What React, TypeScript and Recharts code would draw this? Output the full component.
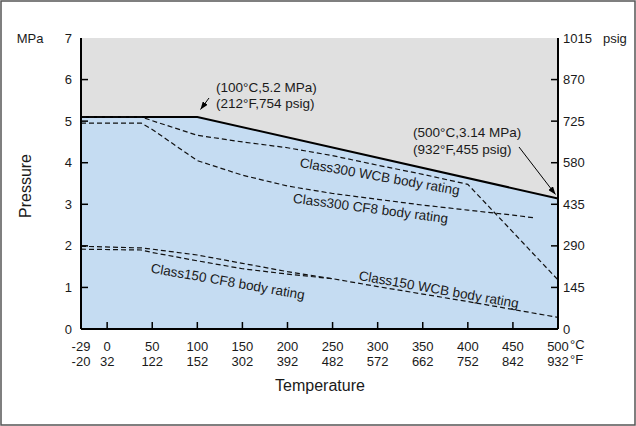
import React from "react";
import { ComposedChart, Area, Line, XAxis, YAxis, CartesianGrid } from "recharts";

// ---- data ----
const tempC = [-29, 0, 50, 100, 150, 200, 250, 300, 350, 400, 450, 500];
const tempF = ["-20", "32", "122", "152", "302", "392", "482", "572", "662", "752", "842", "932"];
const mpaTicks = [0, 1, 2, 3, 4, 5, 6, 7];
const psigTicks = [0, 145, 290, 435, 580, 725, 870, 1015];

const limitT = [-29, 100, 500];
const limitP = [5.1, 5.1, 3.14];
const limitPsig = [740, 740, 455];

const c300WcbT = [-29, 38, 50, 100, 150, 200, 250, 300, 350, 400, 450, 500];
const c300WcbP = [5.1, 5.1, 5.01, 4.66, 4.5, 4.36, 4.17, 3.94, 3.72, 3.48, 2.33, 1.18];

const c300Cf8T = [-29, 38, 50, 100, 150, 200, 250, 300, 350, 400, 450, 475];
const c300Cf8P = [4.95, 4.95, 4.8, 4.05, 3.7, 3.44, 3.26, 3.12, 2.98, 2.86, 2.74, 2.67];

const c150WcbT = [-29, 38, 50, 100, 150, 200, 250, 300, 350, 400, 450, 500];
const c150WcbP = [1.99, 1.95, 1.92, 1.78, 1.58, 1.38, 1.21, 1.02, 0.84, 0.66, 0.47, 0.28];

const c150Cf8T = [-29, 38, 50, 100, 150, 200, 250];
const c150Cf8P = [1.92, 1.9, 1.84, 1.64, 1.45, 1.32, 1.21];

const zip = (t: number[], p: number[]) => t.map((v, i) => ({ t: v, p: p[i] }));

const limitData = zip(limitT, limitP);
const limitPsigData = zip(limitT, limitPsig);
const c300Wcb = zip(c300WcbT, c300WcbP);
const c300Cf8 = zip(c300Cf8T, c300Cf8P);
const c150Wcb = zip(c150WcbT, c150WcbP);
const c150Cf8 = zip(c150Cf8T, c150Cf8P);

const FONT = "'Liberation Sans', Arial, Helvetica, sans-serif";
const INK = "#1a1a1a";
const GRAY = "#e0e0e0";
const BLUE = "#c5dcf2";

const XTick = (props: any) => {
  const { x, y, payload } = props;
  const v = payload.value;
  const idx = tempC.indexOf(v);
  const inner = v !== -29 && v !== 500;
  return (
    <g>
      {inner && <line x1={x} y1={y} x2={x} y2={y - 7} stroke="#000" strokeWidth={1.5} />}
      <text x={x} y={y + 22} textAnchor="middle" fontSize={13} fontFamily={FONT} fill={INK}>
        {v}
      </text>
      <text x={x} y={y + 37} textAnchor="middle" fontSize={13} fontFamily={FONT} fill={INK}>
        {tempF[idx]}
      </text>
      {v === 500 && (
        <>
          <text x={x + 12} y={y + 20} textAnchor="start" fontSize={13} fontFamily={FONT} fill={INK}>
            °C
          </text>
          <text x={x + 12} y={y + 35} textAnchor="start" fontSize={13} fontFamily={FONT} fill={INK}>
            °F
          </text>
        </>
      )}
    </g>
  );
};

const LeftTick = (props: any) => {
  const { x, y, payload } = props;
  const v = payload.value;
  const inner = v !== 0 && v !== 7;
  return (
    <g>
      {inner && <line x1={x} y1={y} x2={x + 7} y2={y} stroke="#000" strokeWidth={1.5} />}
      <text x={x - 9} y={y + 4.5} textAnchor="end" fontSize={13} fontFamily={FONT} fill={INK}>
        {v}
      </text>
    </g>
  );
};

const RightTick = (props: any) => {
  const { x, y, payload } = props;
  const v = payload.value;
  const inner = v !== 0 && v !== 1015;
  return (
    <g>
      {inner && <line x1={x} y1={y} x2={x - 7} y2={y} stroke="#000" strokeWidth={1.5} />}
      <text x={x + 5} y={y + 4.5} textAnchor="start" fontSize={13} fontFamily={FONT} fill={INK}>
        {v}
      </text>
    </g>
  );
};

const dashed = { stroke: "#111", strokeWidth: 1.2, strokeDasharray: "5 3", dot: false, activeDot: false, isAnimationActive: false, type: "linear" as const };

export default function App() {
  return (
    <div style={{ position: "absolute", left: 0, top: 0, width: 636, height: 426, background: "#fff" }}>
      <ComposedChart width={636} height={426} margin={{ top: 38, right: 0, bottom: 0, left: 0 }}>
        <CartesianGrid yAxisId="mpa" horizontal={false} vertical={false} fill={GRAY} fillOpacity={1} stroke="none" />
        <XAxis
          dataKey="t"
          type="number"
          domain={[-29, 500]}
          ticks={tempC}
          interval={0}
          allowDataOverflow
          height={97}
          axisLine={{ stroke: "#000", strokeWidth: 2 }}
          tickLine={false}
          tickSize={0}
          tickMargin={0}
          tick={<XTick />}
        />
        <XAxis
          xAxisId="top"
          orientation="top"
          type="number"
          domain={[-29, 500]}
          height={0}
          tick={false}
          tickLine={false}
          axisLine={{ stroke: "#000", strokeWidth: 2 }}
        />
        <YAxis
          yAxisId="mpa"
          type="number"
          domain={[0, 7]}
          ticks={mpaTicks}
          interval={0}
          width={81}
          axisLine={{ stroke: "#000", strokeWidth: 2 }}
          tickLine={false}
          tickSize={0}
          tickMargin={0}
          tick={<LeftTick />}
        />
        <YAxis
          yAxisId="psig"
          orientation="right"
          type="number"
          domain={[0, 1015]}
          ticks={psigTicks}
          interval={0}
          width={78}
          axisLine={{ stroke: "#000", strokeWidth: 2 }}
          tickLine={false}
          tickSize={0}
          tickMargin={0}
          tick={<RightTick />}
        />
        <Area
          yAxisId="mpa"
          data={limitData}
          dataKey="p"
          type="linear"
          baseValue={0}
          stroke="#000"
          strokeWidth={2}
          fill={BLUE}
          fillOpacity={1}
          dot={false}
          activeDot={false}
          isAnimationActive={false}
        />
        <Line yAxisId="psig" data={limitPsigData} dataKey="p" stroke="none" strokeWidth={0} dot={false} activeDot={false} isAnimationActive={false} />
        <Line yAxisId="mpa" data={c300Wcb} dataKey="p" {...dashed} />
        <Line yAxisId="mpa" data={c300Cf8} dataKey="p" {...dashed} />
        <Line yAxisId="mpa" data={c150Wcb} dataKey="p" {...dashed} />
        <Line yAxisId="mpa" data={c150Cf8} dataKey="p" {...dashed} />
      </ComposedChart>
      <svg
        width={636}
        height={426}
        style={{ position: "absolute", left: 0, top: 0, pointerEvents: "none" }}
        fontFamily={FONT}
      >
        <defs>
          <marker id="ah" viewBox="0 0 8 6" refX={8} refY={3} markerWidth={8} markerHeight={6} markerUnits="userSpaceOnUse" orient="auto">
            <path d="M0,0 L8,3 L0,6 z" fill="#000" />
          </marker>
        </defs>
        <rect x={1} y={1} width={634} height={424} fill="none" stroke="#555" strokeWidth={1.5} />
        <text x={30} y={43} textAnchor="middle" fontSize={13} fill={INK}>MPa</text>
        <text x={603} y={43} textAnchor="start" fontSize={13} fill={INK}>psig</text>
        <text x={320} y={391} textAnchor="middle" fontSize={16} fill={INK}>Temperature</text>
        <text transform="translate(31,186) rotate(-90)" textAnchor="middle" fontSize={16} fill={INK}>Pressure</text>

        <text x={216} y={92} fontSize={13.5} fill={INK}>(100°C,5.2 MPa)</text>
        <text x={216} y={108} fontSize={13.5} fill={INK}>(212°F,754 psig)</text>
        <line x1={209} y1={98} x2={200.5} y2={109.5} stroke="#000" strokeWidth={1} markerEnd="url(#ah)" />

        <text x={413} y={137} fontSize={13.5} fill={INK}>(500°C,3.14 MPa)</text>
        <text x={413} y={154} fontSize={13.5} fill={INK}>(932°F,455 psig)</text>
        <line x1={519} y1={147} x2={555.5} y2={194.5} stroke="#000" strokeWidth={1} markerEnd="url(#ah)" />

        <text transform="translate(379,181) rotate(10)" textAnchor="middle" fontSize={13.5} fill={INK}>Class300 WCB body rating</text>
        <text transform="translate(370,213) rotate(7.5)" textAnchor="middle" fontSize={13.5} fill={INK}>Class300 CF8 body rating</text>
        <text transform="translate(227,286) rotate(10)" textAnchor="middle" fontSize={13.5} fill={INK}>Class150 CF8 body rating</text>
        <text transform="translate(438,294) rotate(10)" textAnchor="middle" fontSize={13.5} fill={INK}>Class150 WCB body rating</text>
      </svg>
    </div>
  );
}
